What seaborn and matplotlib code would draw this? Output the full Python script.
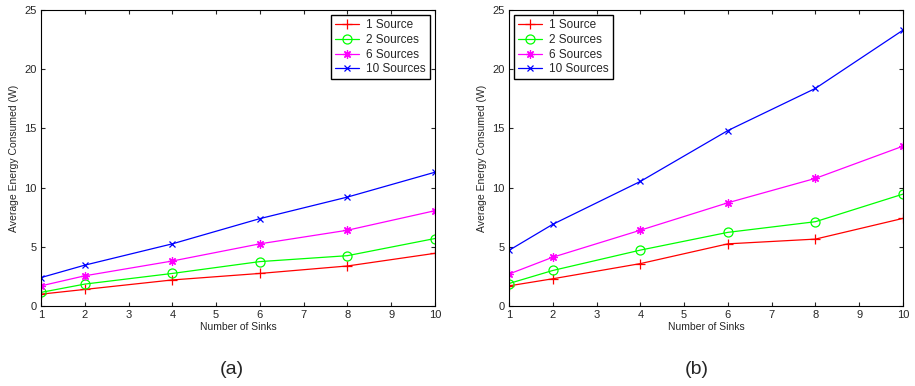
import matplotlib
matplotlib.use('Agg')
import matplotlib.pyplot as plt
import seaborn as sns

# Number of sinks on the x axis
sinks = [1, 2, 4, 6, 8, 10]
series_names = ['1 Source', '2 Sources', '6 Sources', '10 Sources']

# Panel (a)
a_1src = [1.0, 1.4, 2.2, 2.75, 3.38, 4.45]
a_2src = [1.15, 1.85, 2.75, 3.75, 4.25, 5.7]
a_6src = [1.7, 2.55, 3.8, 5.25, 6.4, 8.05]
a_10src = [2.4, 3.45, 5.25, 7.38, 9.2, 11.3]

# Panel (b)
b_1src = [1.7, 2.3, 3.58, 5.25, 5.65, 7.4]
b_2src = [1.9, 3.0, 4.72, 6.22, 7.12, 9.45]
b_6src = [2.7, 4.12, 6.4, 8.72, 10.78, 13.5]
b_10src = [4.7, 6.9, 10.52, 14.82, 18.38, 23.3]

colors = ['#ff0000', '#00ff00', '#ff00ff', '#0000ff']
# matlab-like markers: plus, circle, asterisk, cross
markers = ['+', 'o', (8, 2, 0), 'x']
msizes = [7, 6.5, 6, 4]

sns.set_style('ticks')
plt.rcParams['font.family'] = ['Liberation Sans', 'DejaVu Sans']

fig = plt.figure(figsize=(9.15, 3.86), dpi=100)
ax_a = fig.add_axes([41 / 915, 1 - 306 / 386, 394 / 915, 296 / 386])
ax_b = fig.add_axes([509 / 915, 1 - 306 / 386, 394 / 915, 296 / 386])

panels = [(ax_a, [a_1src, a_2src, a_6src, a_10src], 'upper right', '(a)', 232),
          (ax_b, [b_1src, b_2src, b_6src, b_10src], 'upper left', '(b)', 697)]

for ax, vals, loc, tag, tx in panels:
    for name, v, c, m, ms in zip(series_names, vals, colors, markers, msizes):
        sns.lineplot(x=sinks, y=v, ax=ax, color=c, marker=m, label=name,
                     linewidth=0.9, markersize=ms, markerfacecolor='none',
                     markeredgecolor=c, markeredgewidth=0.9)
    ax.set_xlim(1, 10)
    ax.set_ylim(0, 25)
    ax.set_xticks(range(1, 11))
    ax.set_yticks([0, 5, 10, 15, 20, 25])
    ax.tick_params(direction='in', top=True, right=True, labelsize=8, length=3, pad=3)
    for sp in ax.spines.values():
        sp.set_linewidth(0.8)
        sp.set_color('black')
    ax.set_xlabel('Number of Sinks', fontsize=7.5, labelpad=1)
    ax.set_ylabel('Average Energy Consumed (W)', fontsize=7.5, labelpad=4)
    leg = ax.legend(loc=loc, fontsize=8.5, frameon=True, fancybox=False,
                    edgecolor='black', borderpad=0.35, labelspacing=0.22,
                    handlelength=2.0, handletextpad=0.6, borderaxespad=0.45)
    leg.get_frame().set_linewidth(1.0)
    leg.get_frame().set_alpha(1)
    fig.text(tx / 915, 1 - 370 / 386, tag, fontsize=14, ha='center', va='center')

fig.savefig('out.png', dpi=100)
